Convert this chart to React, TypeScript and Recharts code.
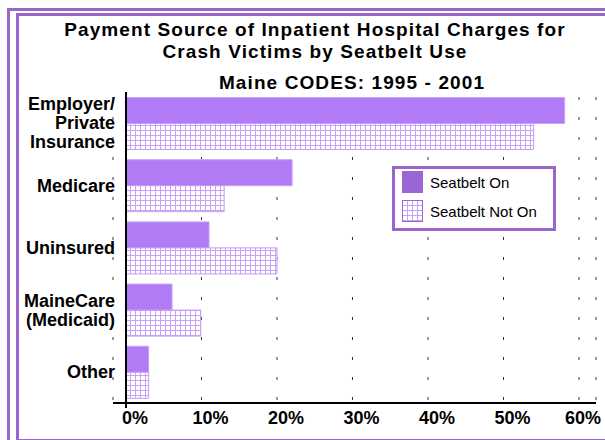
import React from "react";
import {
  BarChart,
  Bar,
  XAxis,
  YAxis,
  CartesianGrid,
  Legend,
  ReferenceLine,
} from "recharts";

const categories = [
  "Employer/\nPrivate\nInsurance",
  "Medicare",
  "Uninsured",
  "MaineCare\n(Medicaid)",
  "Other",
];
const seatbeltOn = [58.1, 22.0, 11.0, 6.1, 3.0];
const seatbeltNotOn = [54.0, 13.0, 20.0, 9.9, 3.0];
const xTicks = [0, 10, 20, 30, 40, 50, 60];

const data = categories.map((name, i) => ({
  name,
  on: seatbeltOn[i],
  notOn: seatbeltNotOn[i],
}));

const FONT = "Arial, 'Liberation Sans', sans-serif";
const BORDER = "#9966CC";
const SOLID = "#B27BF6";
const GRIDLINE = "#C8A0F8";

const HatchDefs = ({ id }: { id: string }) => (
  <defs>
    <pattern id={id} width={5} height={5} patternUnits="userSpaceOnUse">
      <rect width={5} height={5} fill="#fff" />
      <line x1={0.5} y1={0} x2={0.5} y2={5} stroke={GRIDLINE} strokeWidth={1} />
      <line x1={0} y1={0.5} x2={5} y2={0.5} stroke={GRIDLINE} strokeWidth={1} />
    </pattern>
  </defs>
);

const YTick = (props: any) => {
  const { x, y, payload } = props;
  const lines = String(payload.value).split("\n");
  const lh = 19;
  const start = -((lines.length - 1) * lh) / 2;
  return (
    <text
      x={x + 2}
      y={y}
      textAnchor="end"
      fontFamily={FONT}
      fontWeight="bold"
      fontSize={18}
      fill="#000"
    >
      {lines.map((l, i) => (
        <tspan key={i} x={x + 2} y={y + start + i * lh} dy="0.35em">
          {l}
        </tspan>
      ))}
    </text>
  );
};

const XTick = (props: any) => {
  const { x, y, payload } = props;
  // labels sit a little right of their ticks, as in the original
  const dx = payload.value === 60 ? 4 : 9;
  return (
    <g>
      {payload.value === 0 && (
        <line x1={x} y1={y} x2={x} y2={y + 5} stroke="#000" strokeWidth={2} />
      )}
      <text
        x={x + dx}
        y={y + 21}
        textAnchor="middle"
        fontFamily={FONT}
        fontWeight="bold"
        fontSize={18}
        fill="#000"
      >
        {payload.value}%
      </text>
    </g>
  );
};

const LegendBox = () => (
  <div
    style={{
      boxSizing: "border-box",
      width: 164,
      height: 65,
      border: `3px solid ${BORDER}`,
      background: "#fff",
      fontFamily: FONT,
      fontSize: 15,
      color: "#000",
      position: "relative",
      textAlign: "left",
    }}
  >
    <div style={{ position: "absolute", left: 7, top: 2, display: "flex", alignItems: "center" }}>
      <div style={{ width: 21, height: 22, background: "#9A66D6" }} />
      <span style={{ marginLeft: 7 }}>Seatbelt On</span>
    </div>
    <div style={{ position: "absolute", left: 7, top: 31, display: "flex", alignItems: "center" }}>
      <svg width={21} height={22}>
        <HatchDefs id="legendHatch" />
        <rect x={0.5} y={0.5} width={20} height={21} fill="url(#legendHatch)" stroke="#9A66D6" strokeWidth={1} />
      </svg>
      <span style={{ marginLeft: 7 }}>Seatbelt Not On</span>
    </div>
  </div>
);

const titleStyle: React.CSSProperties = {
  position: "absolute",
  width: 600,
  textAlign: "center",
  fontWeight: "bold",
  fontSize: 19,
  lineHeight: "22px",
  letterSpacing: 1.1,
  color: "#000",
};

export default function App() {
  return (
    <div
      style={{
        position: "relative",
        width: 605,
        height: 440,
        overflow: "hidden",
        background: "#fff",
        fontFamily: FONT,
      }}
    >
      <style>{`body{margin:0}`}</style>
      <div
        style={{
          position: "absolute",
          left: 7,
          top: 8,
          width: 700,
          height: 500,
          border: `3px solid ${BORDER}`,
        }}
      />
      <div
        style={{
          position: "absolute",
          left: 16,
          top: 13,
          width: 700,
          height: 423,
          border: `3px solid ${BORDER}`,
        }}
      />
      <div style={{ ...titleStyle, left: 15, top: 19 }}>
        Payment Source of Inpatient Hospital Charges for
        <br />
        Crash Victims by Seatbelt Use
      </div>
      <div style={{ ...titleStyle, left: 52, top: 72 }}>Maine CODES: 1995 - 2001</div>
      <div style={{ position: "absolute", left: 0, top: 0 }}>
        <BarChart
          width={605}
          height={440}
          data={data}
          layout="vertical"
          margin={{ top: 92, right: 9, left: 13, bottom: 7 }}
          barCategoryGap={5.5}
          barGap={0}
        >
          <HatchDefs id="barHatch" />
          <CartesianGrid
            horizontal={false}
            stroke="#333"
            strokeDasharray="3 17"
            strokeDashoffset={15}
          />
          <XAxis
            type="number"
            domain={[-1.72, 62.25]}
            ticks={xTicks}
            allowDataOverflow
            height={30}
            tickSize={0}
            tickMargin={0}
            tickLine={false}
            axisLine={{ stroke: "#000", strokeWidth: 2 }}
            tick={<XTick />}
            interval={0}
          />
          <YAxis
            type="category"
            dataKey="name"
            width={100}
            tickSize={0}
            tickMargin={0}
            tickLine={false}
            axisLine={false}
            tick={<YTick />}
            interval={0}
          />
          <Legend
            layout="vertical"
            align="center"
            verticalAlign="middle"
            content={<LegendBox />}
            wrapperStyle={{ left: 392, top: 166, width: 164, height: 65 }}
          />
          <Bar
            dataKey="on"
            name="Seatbelt On"
            fill={SOLID}
            stroke="#C9A2F9"
            strokeWidth={1}
            isAnimationActive={false}
          />
          <Bar
            dataKey="notOn"
            name="Seatbelt Not On"
            fill="url(#barHatch)"
            stroke="#C49AF7"
            strokeWidth={1}
            isAnimationActive={false}
          />
          <ReferenceLine x={0} stroke="#000" strokeWidth={2} />
        </BarChart>
      </div>
    </div>
  );
}
